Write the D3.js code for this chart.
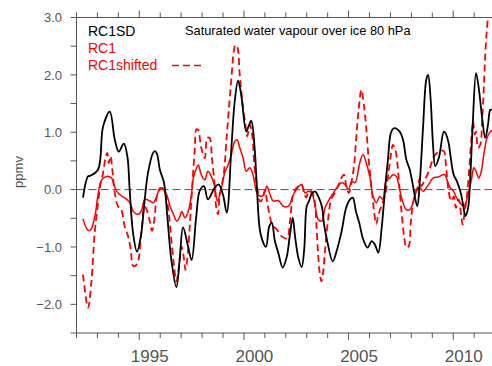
<!DOCTYPE html>
<html><head><meta charset="utf-8">
<script src="https://cdn.jsdelivr.net/npm/d3@7/dist/d3.min.js"></script>
<style>body{margin:0;background:#fff}svg{display:block}</style>
</head><body>
<script>
// ---- data ----
const rc1sdYears = [1992.31,1992.55,1992.65,1993.03,1993.27,1993.59,1993.83,1994.02,1994.26,1994.43,1994.54,1994.70,1994.89,1995.08,1995.26,1995.42,1995.66,1995.75,1995.85,1995.98,1996.18,1996.34,1996.53,1996.77,1996.93,1997.09,1997.33,1997.50,1997.72,1997.89,1998.09,1998.28,1998.60,1998.79,1999.00,1999.18,1999.40,1999.56,1999.72,1999.87,2000.11,2000.22,2000.35,2000.51,2000.61,2000.80,2001.05,2001.21,2001.33,2001.48,2001.64,2001.85,2002.04,2002.20,2002.33,2002.44,2002.60,2002.76,2002.88,2003.00,2003.11,2003.24,2003.40,2003.55,2003.72,2003.83,2003.98,2004.24,2004.43,2004.67,2004.88,2005.07,2005.20,2005.35,2005.51,2005.70,2005.91,2006.10,2006.26,2006.42,2006.58,2006.74,2006.88,2007.04,2007.20,2007.44,2007.60,2007.76,2007.92,2008.08,2008.28,2008.40,2008.56,2008.71,2008.80,2008.92,2009.03,2009.14,2009.31,2009.55,2009.62,2009.78,2009.86,2010.02,2010.18,2010.34,2010.47,2010.58,2010.71,2010.82,2010.93,2011.09,2011.22,2011.38,2011.53,2011.66,2011.77,2011.86];
const rc1sdValues = [-0.14,0.23,0.24,0.35,1.1,1.36,0.87,0.66,0.8,0.58,0,-0.75,-1.08,-0.8,-0.17,0.3,0.64,0.67,0.62,0.35,0.12,-0.47,-1.22,-1.7,-1.22,-0.66,-0.99,-1.23,-0.47,-0.02,0.06,-0.17,0.03,0.09,-0.09,-0.4,0.73,1.54,1.9,1.65,1.01,1.1,1.2,0.73,0.1,-0.78,-1.0,-0.64,-0.58,-0.9,-1.1,-1.36,-1.18,-0.78,-0.49,-0.81,-1.19,-1.35,-1.04,-0.29,-0.2,-0.07,-0.03,-0.12,-0.29,-0.61,-0.9,-1.25,-1.07,-0.72,-0.32,-0.17,-0.14,-0.38,-0.58,-0.87,-1.01,-0.9,-0.96,-1.1,-0.67,0,0.52,1.01,1.07,1.01,0.87,0.52,0.35,0.06,-0.29,0.12,1.1,1.91,2.0,1.57,0.81,0.41,0.55,1.01,0.99,0.81,0.61,0.26,0.14,-0.03,-0.26,-0.46,-0.32,0.26,1.13,2.03,1.77,1.25,0.9,1.13,1.39,1.4];

const rc1Years = [1992.31,1992.55,1992.68,1992.88,1993.04,1993.20,1993.44,1993.68,1993.76,1993.92,1994.08,1994.40,1994.56,1994.71,1994.89,1995.03,1995.12,1995.27,1995.51,1995.67,1995.83,1995.99,1996.15,1996.31,1996.47,1996.63,1996.79,1996.95,1997.03,1997.18,1997.34,1997.50,1997.58,1997.74,1997.82,1997.96,1998.13,1998.28,1998.44,1998.60,1998.73,1998.89,1999.08,1999.24,1999.40,1999.56,1999.67,1999.80,1999.96,2000.11,2000.28,2000.43,2000.59,2000.69,2000.93,2001.09,2001.25,2001.40,2001.64,2001.88,2002.12,2002.36,2002.60,2002.76,2002.92,2003.08,2003.24,2003.40,2003.55,2003.72,2003.87,2004.03,2004.27,2004.43,2004.67,2004.83,2004.99,2005.15,2005.31,2005.53,2005.69,2005.85,2006.01,2006.17,2006.32,2006.49,2006.64,2006.80,2006.97,2007.12,2007.28,2007.39,2007.55,2007.76,2007.92,2008.08,2008.24,2008.40,2008.56,2008.71,2008.88,2009.03,2009.27,2009.59,2009.70,2009.86,2010.02,2010.13,2010.26,2010.39,2010.50,2010.63,2010.74,2010.87,2010.98,2011.09,2011.22,2011.34,2011.46,2011.61,2011.77,2011.86];
const rc1Values = [-0.51,-0.71,-0.7,-0.46,-0.06,0.17,0.23,0.2,0.12,-0.03,-0.09,-0.17,-0.23,-0.38,-0.43,-0.41,-0.35,-0.17,-0.2,-0.23,-0.12,0.03,0,-0.09,-0.29,-0.43,-0.55,-0.46,-0.38,-0.49,-0.38,-0.06,0.2,0.38,0.43,0.26,0.17,0.32,0.23,0.06,-0.2,-0.03,0.29,0.43,0.61,0.84,0.87,0.73,0.55,0.32,0.38,0.26,-0.03,-0.1,-0.1,0.06,-0.09,-0.2,-0.19,-0.29,-0.29,-0.09,0.05,0.09,-0.06,-0.03,-0.06,-0.29,-0.52,-0.55,-0.32,-0.2,-0.06,0.03,0.12,0.09,0,0.14,0.12,0.46,0.61,0.46,0.23,-0.12,-0.23,-0.12,-0.17,0.17,0.2,0.26,0.23,0.09,-0.17,-0.35,-0.35,-0.23,-0.03,0.03,-0.03,0.03,0.12,0.2,0.22,0.26,0.17,0.03,-0.03,-0.12,-0.2,-0.26,-0.29,-0.2,-0.03,0.17,0.38,0.32,0.2,0.32,0.61,0.9,1.01,1.03];

const rc1shiftedYears = [1992.31,1992.55,1992.71,1992.87,1993.03,1993.16,1993.27,1993.40,1993.47,1993.54,1993.63,1993.71,1993.83,1993.98,1994.14,1994.30,1994.46,1994.59,1994.70,1994.81,1994.94,1995.10,1995.26,1995.38,1995.50,1995.61,1995.74,1995.81,1995.93,1996.09,1996.24,1996.41,1996.53,1996.66,1996.77,1996.88,1997.01,1997.14,1997.20,1997.29,1997.41,1997.52,1997.65,1997.73,1997.81,1997.96,1998.13,1998.25,1998.36,1998.47,1998.60,1998.68,1998.76,1998.84,1998.95,1999.05,1999.16,1999.27,1999.40,1999.51,1999.59,1999.68,1999.80,1999.92,2000.07,2000.16,2000.28,2000.39,2000.51,2000.64,2000.75,2000.83,2001.01,2001.10,2001.23,2001.34,2001.58,2001.82,2002.06,2002.20,2002.34,2002.45,2002.58,2002.75,2002.87,2002.98,2003.09,2003.23,2003.38,2003.46,2003.54,2003.62,2003.70,2003.78,2003.89,2004.02,2004.17,2004.34,2004.49,2004.65,2004.78,2004.89,2005.01,2005.13,2005.26,2005.37,2005.48,2005.61,2005.74,2005.85,2005.96,2006.09,2006.21,2006.32,2006.41,2006.56,2006.73,2006.88,2007.01,2007.12,2007.23,2007.33,2007.41,2007.52,2007.65,2007.76,2007.87,2007.97,2008.08,2008.19,2008.32,2008.40,2008.47,2008.64,2008.80,2008.92,2009.03,2009.14,2009.38,2009.55,2009.65,2009.78,2009.91,2010.02,2010.13,2010.26,2010.39,2010.45,2010.55,2010.66,2010.77,2010.87,2010.95,2011.03,2011.09,2011.18,2011.29,2011.38,2011.46,2011.53,2011.61,2011.71];
const rc1shiftedValues = [-1.48,-2.06,-1.62,-0.75,-0.23,0.12,0.29,0.58,0.64,0.46,0.58,0.35,-0.06,-0.29,-0.35,-0.64,-0.81,-1.04,-1.33,-1.33,-1.25,-0.75,-0.29,-0.38,-0.55,-0.72,-0.46,-0.17,-0.03,0.03,-0.06,-0.41,-0.87,-1.33,-1.6,-1.39,-0.99,-1.22,-1.4,-1.22,-0.64,0,0.7,1.05,1.04,0.73,0.55,0.9,0.9,0.55,0.09,-0.32,-0.43,-0.09,0.09,0.32,0.84,1.36,1.94,2.4,2.52,2.49,2.0,1.54,1.13,0.93,1.13,0.96,0.38,0.03,-0.2,-0.2,0,-0.2,-0.45,-0.6,-0.7,-0.82,-0.85,-0.55,-0.1,0,0.05,0.09,-0.06,-0.14,-0.03,-0.03,-0.2,-0.6,-1.1,-1.45,-1.6,-1.45,-0.99,-0.52,-0.17,-0.06,0.06,0.2,0.26,0.06,-0.06,0.12,0.41,0.93,1.39,1.74,1.45,1.04,0.52,0.06,-0.35,-0.6,-0.46,-0.29,-0.12,0.23,0.58,0.78,0.7,0.46,0.12,-0.35,-0.81,-1.01,-0.99,-0.58,-0.23,-0.06,0.06,0.2,0.06,0.17,0.29,0.41,0.55,0.61,0.67,0.67,0.43,-0.03,-0.2,-0.12,-0.32,-0.17,-0.49,-0.61,-0.38,-0.09,0.38,0.9,1.19,0.96,1.01,0.73,0.78,1.19,1.77,2.35,2.81,3.2];

const yTicks = [-2.5,-2.0,-1.5,-1.0,-0.5,0.0,0.5,1.0,1.5,2.0,2.5,3.0];
const yLabels = [-2.0,-1.0,0.0,1.0,2.0,3.0];
const xMinor = d3.range(1992, 2012);
const xMajor = [1995, 2000, 2005, 2010];
const xLabels = ["1995","2000","2005","2010"];
const seriesNames = ["RC1SD","RC1","RC1shifted"];
const title = "Saturated water vapour over ice 80 hPa";
const yTitle = "ppmv";

// ---- layout ----
const W = 492, H = 366;
const L = 76.5, T = 17.5, B = 333;
const x = d3.scaleLinear().domain([1992, 2012]).range([L, L + 20*20.93]);
const y = d3.scaleLinear().domain([-2.5, 3.0]).range([B, T]);
const R = x(2012);
const grey = "#555";
const font = "Liberation Sans, Arial, sans-serif";

const svg = d3.select("body").append("svg").attr("width", W).attr("height", H);
svg.append("defs").append("clipPath").attr("id","clip")
  .append("rect").attr("x", L).attr("y", T).attr("width", R - L).attr("height", B - T);

// zero dashed line
svg.append("line").attr("x1", L).attr("x2", R).attr("y1", y(0)).attr("y2", y(0))
  .attr("stroke", grey).attr("stroke-width", 1).attr("stroke-dasharray", "8,4");

// axes frame
const frame = svg.append("g").attr("stroke", grey).attr("stroke-width", 1).attr("fill","none");
frame.append("line").attr("x1", L).attr("x2", R).attr("y1", T).attr("y2", T);
frame.append("line").attr("x1", L).attr("x2", R).attr("y1", B).attr("y2", B);
frame.append("line").attr("x1", L).attr("x2", L).attr("y1", T).attr("y2", B);

xMinor.forEach(v => {
  const len = xMajor.includes(v) ? 7 : 5;
  frame.append("line").attr("x1", x(v)).attr("x2", x(v)).attr("y1", B).attr("y2", B + len);
  frame.append("line").attr("x1", x(v)).attr("x2", x(v)).attr("y1", T).attr("y2", T - len);
});
yTicks.forEach(v => {
  frame.append("line").attr("x1", L - 6).attr("x2", L).attr("y1", y(v)).attr("y2", y(v));
});

const fmt = v => (v < 0 ? "\u2212" : "") + Math.abs(v).toFixed(1);
svg.append("g").selectAll("text").data(yLabels).join("text")
  .attr("x", 62).attr("y", d => y(d)).attr("dy", "0.36em")
  .attr("text-anchor", "end").attr("fill", grey)
  .attr("font-family", font).attr("font-size", 13)
  .text(fmt);

svg.append("g").selectAll("text").data(xMajor).join("text")
  .attr("x", d => x(d + 0.5)).attr("y", 362)
  .attr("text-anchor", "middle").attr("fill", grey)
  .attr("font-family", font).attr("font-size", 17)
  .text((d, i) => xLabels[i]);

svg.append("text").attr("transform", `translate(23,172) rotate(-90)`)
  .attr("text-anchor", "middle").attr("fill", grey)
  .attr("font-family", font).attr("font-size", 13)
  .text(yTitle);

// lines
const mk = (xs, vs) => xs.map((t, i) => [t, vs[i]]);
const line = d3.line().x(d => x(d[0])).y(d => y(d[1])).curve(d3.curveCatmullRom.alpha(0.5));
const plot = svg.append("g").attr("clip-path", "url(#clip)").attr("fill", "none");
plot.append("path").datum(mk(rc1Years, rc1Values)).attr("d", line)
  .attr("stroke", "#ff0000").attr("stroke-width", 1.5);
plot.append("path").datum(mk(rc1shiftedYears, rc1shiftedValues)).attr("d", line)
  .attr("stroke", "#ff0000").attr("stroke-width", 1.8).attr("stroke-dasharray", "7,4");
plot.append("path").datum(mk(rc1sdYears, rc1sdValues)).attr("d", line)
  .attr("stroke", "#000").attr("stroke-width", 1.8);

// legend & title
const lg = svg.append("g").attr("font-family", font).attr("font-size", 14);
lg.append("text").attr("x", 88).attr("y", 36).attr("fill", "#000").text(seriesNames[0]);
lg.append("text").attr("x", 88).attr("y", 53).attr("fill", "#ff0000").text(seriesNames[1]);
lg.append("text").attr("x", 88).attr("y", 70).attr("fill", "#ff0000").text(seriesNames[2]);
lg.append("line").attr("x1", 172).attr("x2", 204).attr("y1", 65.5).attr("y2", 65.5)
  .attr("stroke", "#ff0000").attr("stroke-width", 1.5).attr("stroke-dasharray", "7,4");
svg.append("text").attr("x", 185).attr("y", 35).attr("fill", "#000")
  .attr("font-family", font).attr("font-size", 12.8)
  .text(title);
</script>
</body></html>
